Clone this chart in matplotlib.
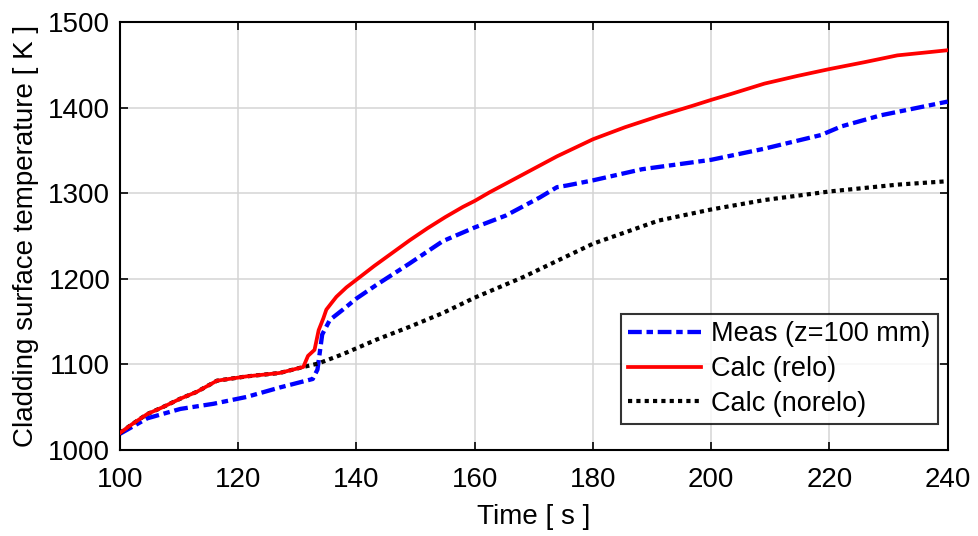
import numpy as np
import matplotlib
matplotlib.use("Agg")
import matplotlib.pyplot as plt

plt.rcParams['font.family'] = ['Liberation Sans', 'DejaVu Sans']

# measured, z = 100 mm
meas_t = [100, 104.6, 110.2, 115.8, 121.4, 127, 132.6, 133.4, 134.2, 135.5,
          137.7, 140, 143.4, 149, 154.6, 160, 165.3, 171, 173.9, 175.6,
          180, 188.3, 200, 209, 218.6, 222, 228.7, 240]
meas_T = [1019, 1037, 1048, 1054, 1062, 1073, 1083, 1094, 1135, 1152,
          1164, 1177, 1193, 1218, 1244, 1260, 1274, 1295, 1307, 1309,
          1315, 1328, 1339, 1352, 1368, 1378, 1391, 1407]

# calc with relocation
relo_t = [100, 102, 104.6, 107.2, 110.2, 113, 116.4, 121.4, 127, 131,
          131.8, 132.9, 133.6, 134.4, 134.9, 135.8, 136.6, 138.3, 140, 143,
          146, 149, 152, 155, 158, 160, 162.5, 168.2, 173.9, 180,
          185.4, 191.1, 196.8, 200, 203.4, 209, 214.6, 220, 225.9, 231.5,
          237.2, 240]
relo_T = [1020, 1030, 1042, 1050, 1060, 1068, 1081, 1086, 1090, 1097,
          1110, 1117, 1140, 1154, 1164, 1172, 1179, 1190, 1199, 1215,
          1230, 1245, 1259, 1272, 1284, 1291, 1301, 1322, 1343, 1363,
          1377, 1390, 1402, 1409, 1416, 1428, 1437, 1445, 1453, 1461,
          1465, 1467]

# calc without relocation
norelo_t = [100, 102, 104.6, 107.2, 110.2, 113, 116.4, 121.4, 127, 131,
            133.5, 137.7, 143.4, 149, 154.6, 160, 168.2, 180, 191.1, 200,
            209, 220, 231.5, 240]
norelo_T = [1020, 1030, 1042, 1050, 1060, 1068, 1081, 1086, 1090, 1097,
            1101, 1112, 1129, 1144, 1160, 1178, 1202, 1241, 1268, 1281,
            1292, 1302, 1310, 1314]

fig = plt.figure(figsize=(9.79, 5.36), dpi=100)
ax = fig.add_axes([0.1226, 0.1604, 0.8454, 0.7986])

ax.grid(True, color='#d4d4d4', linewidth=1.1, zorder=0)

ax.plot(meas_t, meas_T, color=(0, 0, 1), linewidth=3.1,
        linestyle=(0, (3.2, 1.1, 1.5, 1.1)), label="Meas (z=100 mm)", zorder=3)
ax.plot(relo_t, relo_T, color=(1, 0, 0), linewidth=2.7,
        label="Calc (relo)", zorder=4)
ax.plot(norelo_t, norelo_T, color='black', linewidth=3.0,
        linestyle=(0, (1, 1)), dash_capstyle='butt', label="Calc (norelo)", zorder=3)

ax.set_xlim([100, 240])
ax.set_ylim([1000, 1500])
ax.set_xticks(np.arange(100, 241, 20))
ax.set_yticks(np.arange(1000, 1501, 100))

ax.tick_params(direction='in', top=True, right=True, length=6, width=1.2,
               labelsize=20, pad=7)
ax.tick_params(axis='x', pad=12.5)
for s in ax.spines.values():
    s.set_linewidth(1.5)

ax.set_xlabel("Time [ s ]", fontsize=20, labelpad=8)
ax.set_ylabel("Cladding surface temperature [ K ]", fontsize=20, labelpad=7)

leg = ax.legend(loc='lower right', bbox_to_anchor=(0.988, 0.06), fontsize=19.5,
                frameon=True, fancybox=False, edgecolor='black',
                handlelength=2.7, borderpad=0.28, labelspacing=0.32,
                handletextpad=0.35, borderaxespad=0)
leg.get_frame().set_linewidth(1.5)

fig.savefig("out.png", dpi=100)
